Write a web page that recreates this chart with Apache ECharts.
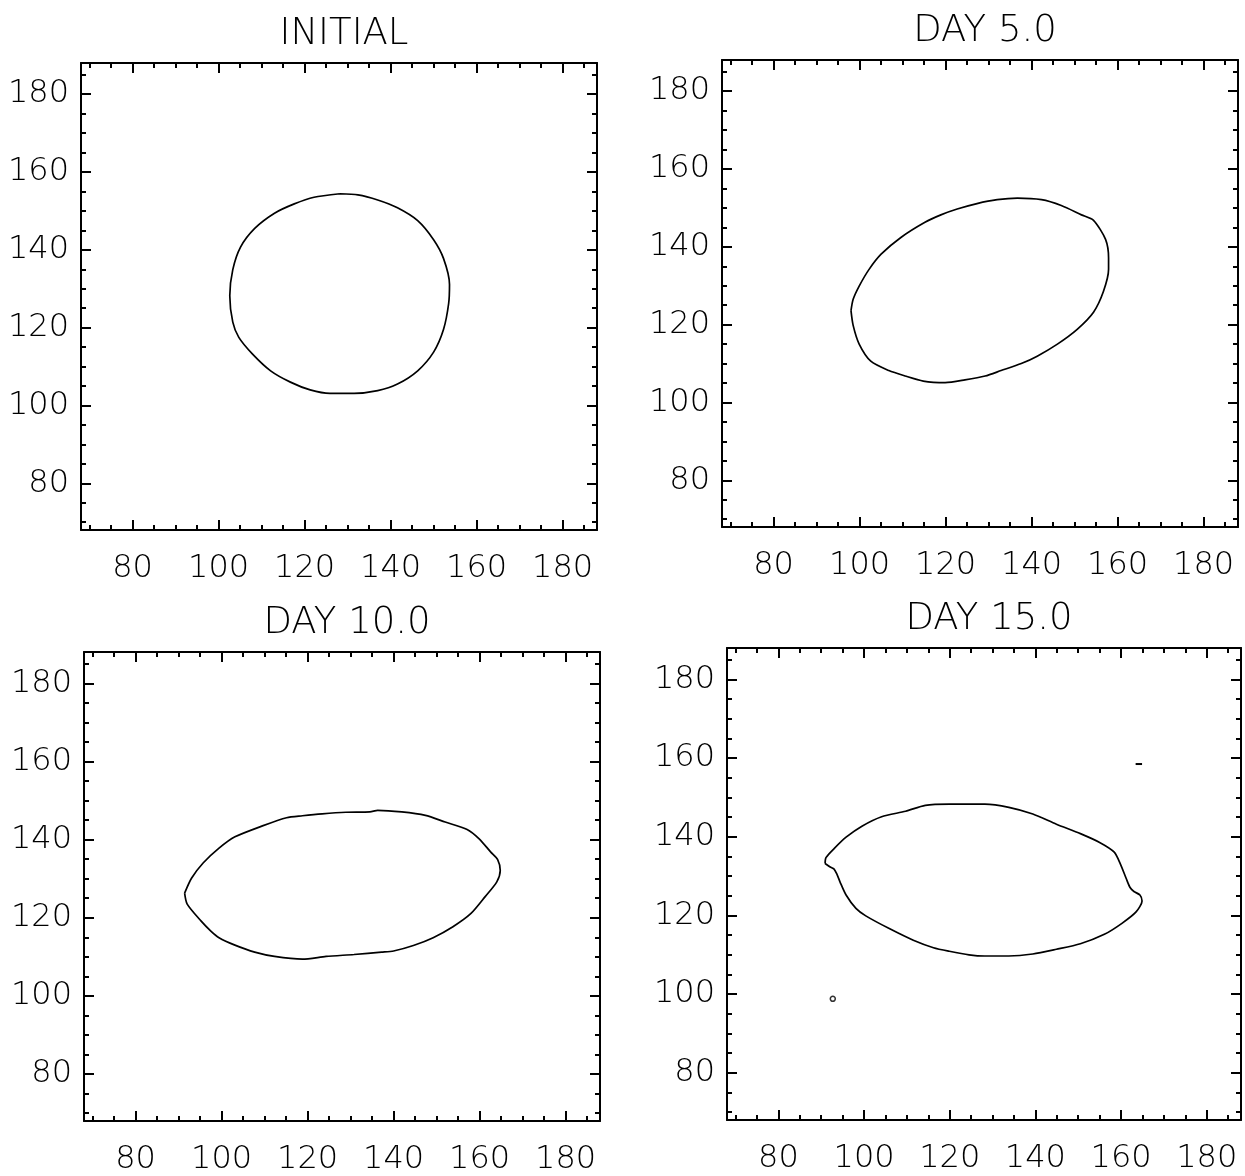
<!DOCTYPE html>
<html><head><meta charset="utf-8">
<script src="https://cdn.jsdelivr.net/npm/echarts@6/dist/echarts.min.js"></script>
<style>html,body{margin:0;padding:0;background:#fff}#c{width:1245px;height:1176px}</style>
</head><body><div id="c"></div>
<script>
// ---- data ----
const panelTitles = ['INITIAL', 'DAY 5.0', 'DAY 10.0', 'DAY 15.0'];
const majorTicks = [80, 100, 120, 140, 160, 180];
const minorTicks = [70, 75, 85, 90, 95, 105, 110, 115, 125, 130, 135, 145, 150, 155, 165, 170, 175, 185];

const contourInitial = [
  [128.2,154.4],[132.4,154.1],[137.0,152.8],[141.6,150.8],[146.3,147.5],[150.0,142.6],[152.3,137.8],
  [153.7,131.1],[153.5,126.2],[152.3,119.5],[150.0,113.7],[146.3,108.9],[141.6,105.5],[137.0,103.8],
  [131.5,103.1],[125.9,103.1],[121.3,104.0],[116.7,106.0],[112.1,108.9],[107.9,113.2],[104.7,117.5],
  [103.3,121.4],[102.6,128.2],[103.3,134.9],[105.1,140.7],[108.4,145.5],[113.0,149.4],[117.6,151.8],
  [122.2,153.5],[128.2,154.4]
];
const contourDay5 = [
  [98.0,123.6],[98.5,119.8],[99.9,115.0],[102.6,110.6],[106.8,108.2],[110.6,106.8],[114.8,105.5],
  [119.9,105.1],[124.5,105.8],[129.2,106.8],[132.9,108.2],[137.6,110.0],[141.3,111.9],[146.0,115.0],
  [150.6,118.8],[154.4,123.2],[156.7,128.5],[157.9,134.2],[157.9,137.1],[157.2,141.9],[154.4,146.8],
  [151.6,148.2],[146.9,150.6],[142.3,152.1],[136.7,152.5],[132.0,152.1],[127.3,151.1],[122.7,149.7],
  [118.9,148.2],[115.2,146.3],[109.6,142.4],[105.0,138.1],[102.2,134.2],[99.9,129.9],[98.5,126.5],
  [98.0,123.6]
];
const contourDay10 = [
  [91.4,126.3],[92.0,123.5],[95.2,119.2],[97.5,116.6],[99.4,114.9],[103.1,113.0],[107.7,111.2],
  [112.3,110.1],[118.8,109.4],[124.3,110.1],[130.8,110.6],[137.2,111.2],[140.0,111.5],[144.6,112.9],
  [149.2,114.9],[153.8,117.7],[158.0,121.1],[161.3,125.4],[164.0,129.2],[164.8,132.1],[164.2,134.9],
  [162.6,136.8],[159.9,140.2],[157.1,142.6],[152.0,144.5],[147.4,146.2],[141.9,147.1],[136.3,147.5],
  [134.5,147.1],[128.9,147.0],[123.4,146.6],[118.8,146.1],[115.1,145.6],[109.5,143.5],[103.1,140.7],
  [99.4,137.8],[95.7,134.0],[93.0,130.1],[91.4,126.3]
];
const contourDay15 = [
  [90.9,133.2],[91.1,134.7],[93.0,137.0],[95.8,139.9],[99.5,142.7],[104.1,145.1],[109.7,146.5],
  [114.3,148.0],[119.9,148.3],[128.2,148.3],[133.8,147.5],[139.4,145.8],[144.9,143.2],[150.5,140.8],
  [155.1,138.5],[158.4,136.1],[159.8,133.2],[161.2,129.4],[162.1,127.1],[163.0,126.1],[164.4,125.2],
  [164.9,123.7],[163.5,120.9],[160.2,118.0],[156.1,115.2],[150.5,112.8],[144.9,111.4],[139.4,110.2],
  [133.8,109.7],[128.2,109.7],[124.5,110.0],[119.9,110.9],[116.2,111.8],[111.5,113.7],[106.0,116.6],
  [100.4,119.9],[98.1,121.8],[95.8,125.2],[94.4,128.5],[93.7,130.4],[93.0,131.8],[92.1,132.3],
  [90.9,133.2]
];
const day15Dot = [[92.7, 98.8]];
const day15Dash = [[163.4, 158.5], [164.9, 158.5]];

const contours = [contourInitial, contourDay5, contourDay10, contourDay15];

// ---- layout ----
const AX_MIN = 68, AX_MAX = 188;
const grids = [
  {left: 81, top: 63, width: 516, height: 467},
  {left: 722, top: 60, width: 516, height: 467},
  {left: 84, top: 652, width: 516, height: 471},
  {left: 727, top: 648, width: 514, height: 472}
];
const FONT = 'DejaVu Sans';
const ink = '#000';

const xAxes = [], yAxes = [], series = [], titles = [];

function axis(dim, gi, pos, ticks, len, showLine, showLabel) {
  return {
    gridIndex: gi, type: 'value', min: AX_MIN, max: AX_MAX, position: pos,
    axisLine: {show: showLine, onZero: false, lineStyle: {color: ink, width: 2}},
    axisTick: {show: true, inside: true, length: len, customValues: ticks, lineStyle: {color: ink, width: 2}},
    axisLabel: {show: showLabel, customValues: majorTicks, color: ink, fontFamily: FONT,
      fontSize: 32, fontWeight: 200, margin: dim === 'x' ? 23 : 12,
      padding: dim === 'x' ? 0 : [12, 0, 0, 0]},
    splitLine: {show: false}, minorTick: {show: false}
  };
}

grids.forEach((g, i) => {
  xAxes.push(axis('x', i, 'bottom', majorTicks, 10, true, true));
  xAxes.push(axis('x', i, 'bottom', minorTicks, 5, false, false));
  xAxes.push(axis('x', i, 'top', majorTicks, 10, true, false));
  xAxes.push(axis('x', i, 'top', minorTicks, 5, false, false));
  yAxes.push(axis('y', i, 'left', majorTicks, 10, true, true));
  yAxes.push(axis('y', i, 'left', minorTicks, 5, false, false));
  yAxes.push(axis('y', i, 'right', majorTicks, 10, true, false));
  yAxes.push(axis('y', i, 'right', minorTicks, 5, false, false));

  titles.push({
    text: panelTitles[i], left: g.left + g.width / 2, top: g.top - 52, textAlign: 'center',
    textStyle: {fontFamily: FONT, fontSize: 37, fontWeight: 200, color: ink}
  });

  series.push({
    type: 'line', xAxisIndex: i * 4, yAxisIndex: i * 4, data: contours[i],
    showSymbol: false, smooth: 0.25, silent: true, animation: false,
    lineStyle: {color: ink, width: 1.7}
  });
});

series.push({
  type: 'scatter', xAxisIndex: 12, yAxisIndex: 12, data: day15Dot, symbol: 'circle', symbolSize: 5,
  itemStyle: {color: '#fff', borderColor: ink, borderWidth: 1.5}, animation: false, silent: true
});
series.push({
  type: 'line', xAxisIndex: 12, yAxisIndex: 12, data: day15Dash, showSymbol: false,
  lineStyle: {color: ink, width: 2}, animation: false, silent: true
});

const chart = echarts.init(document.getElementById('c'), null, {renderer: 'canvas'});
chart.setOption({
  backgroundColor: '#fff',
  animation: false,
  title: titles,
  grid: grids.map(g => Object.assign({containLabel: false}, g)),
  xAxis: xAxes,
  yAxis: yAxes,
  series: series
});
</script></body></html>
